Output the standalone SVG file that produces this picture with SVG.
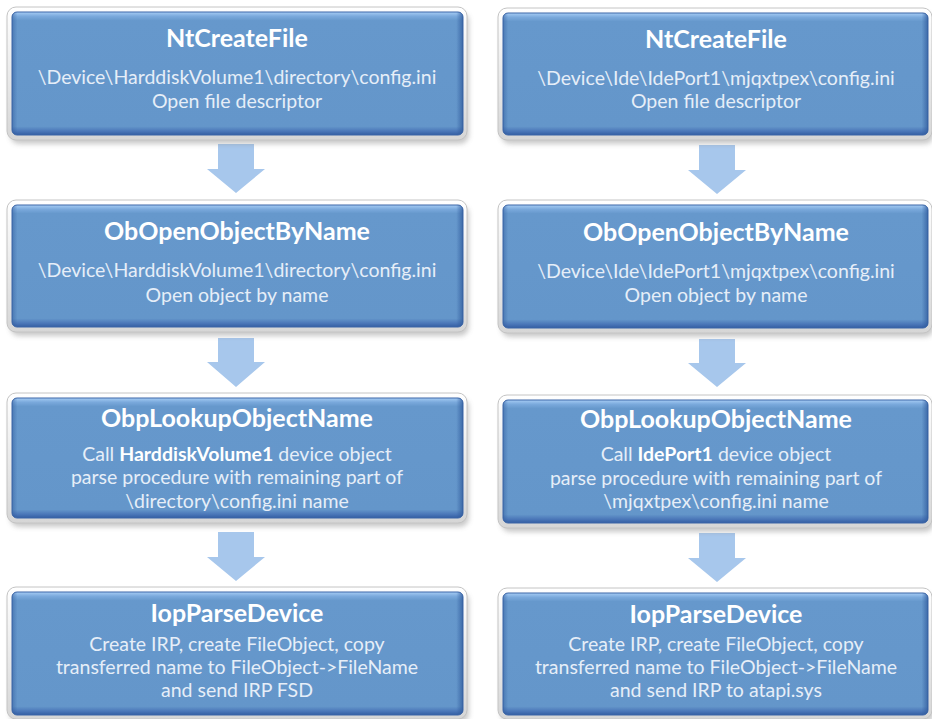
<svg xmlns="http://www.w3.org/2000/svg" width="932" height="719" viewBox="0 0 932 719">
<defs>
<style>
.t{font-family:Lato,"Open Sans",sans-serif;font-weight:bold;font-size:25px;fill:#ffffff;text-anchor:middle}
.b{font-family:Lato,"Open Sans",sans-serif;font-size:19.5px;fill:#e6eef8;text-anchor:middle}
.bb{font-weight:bold;fill:#ffffff}
.frame{fill:url(#gFrame);stroke:#c4c4c4;stroke-width:1}
.blue{fill:url(#gBlue);stroke:#3c66a8;stroke-width:1}
.edge{fill:url(#gEdge)}
.arrow{fill:#a7c7ec}
.shadow{fill:#8a8a8a;opacity:0.45;filter:url(#blur)}
</style>
<linearGradient id="gFrame" x1="0" y1="0" x2="0" y2="1">
<stop offset="0" stop-color="#ffffff"/>
<stop offset="1" stop-color="#d6d6d6"/>
</linearGradient>
<linearGradient id="gBlue" x1="0" y1="0" x2="0" y2="1">
<stop offset="0" stop-color="#a6ccf4"/>
<stop offset="0.035" stop-color="#7aa9dc"/>
<stop offset="0.07" stop-color="#6698cc"/>
<stop offset="0.93" stop-color="#6496ca"/>
<stop offset="0.97" stop-color="#4a76b8"/>
<stop offset="1" stop-color="#345ea2"/>
</linearGradient>
<linearGradient id="gEdge" x1="0" y1="0" x2="1" y2="0">
<stop offset="0" stop-color="#2f5a9c" stop-opacity="0.5"/>
<stop offset="0.012" stop-color="#2f5a9c" stop-opacity="0"/>
<stop offset="0.985" stop-color="#2f5a9c" stop-opacity="0"/>
<stop offset="1" stop-color="#2f5a9c" stop-opacity="0.75"/>
</linearGradient>
<filter id="blur" x="-10%" y="-20%" width="120%" height="140%">
<feGaussianBlur stdDeviation="2.5"/>
</filter>
</defs>
<rect width="932" height="719" fill="#ffffff"/>

<g id="connectors">
<path class="arrow" d="M218,144 H254 V169 H265 L236,193 L207,169 H218 Z"/>
<path class="arrow" d="M218,338 H254 V362 H265 L236,387 L207,362 H218 Z"/>
<path class="arrow" d="M218,532 H254 V557 H265 L236,581 L207,557 H218 Z"/>
<path class="arrow" d="M699,145 H735 V170 H746 L717,194 L688,170 H699 Z"/>
<path class="arrow" d="M699,339 H735 V363 H746 L717,387 L688,363 H699 Z"/>
<path class="arrow" d="M699,533 H735 V558 H746 L717,582 L688,558 H699 Z"/>
</g>

<g id="left-ntcreatefile">
<rect class="shadow" x="10" y="12" width="459" height="132" rx="9"/>
<rect class="frame" x="7" y="7" width="460" height="133" rx="9"/>
<rect class="blue" x="12" y="12" width="451" height="123" rx="5"/>
<rect class="edge" x="12" y="12" width="451" height="123" rx="5"/>
<text class="t" x="237" y="47">NtCreateFile</text>
<text class="b" x="237" y="84">\Device\HarddiskVolume1\directory\config.ini</text>
<text class="b" x="237" y="108">Open file descriptor</text>
</g>

<g id="left-obopen">
<rect class="shadow" x="10" y="205" width="459" height="131" rx="9"/>
<rect class="frame" x="7" y="200" width="460" height="132" rx="9"/>
<rect class="blue" x="12" y="205" width="451" height="122" rx="5"/>
<rect class="edge" x="12" y="205" width="451" height="122" rx="5"/>
<text class="t" x="237" y="240">ObOpenObjectByName</text>
<text class="b" x="237" y="277">\Device\HarddiskVolume1\directory\config.ini</text>
<text class="b" x="237" y="302">Open object by name</text>
</g>

<g id="left-obplookup">
<rect class="shadow" x="10" y="398" width="459" height="129" rx="9"/>
<rect class="frame" x="7" y="393" width="460" height="130" rx="9"/>
<rect class="blue" x="12" y="398" width="451" height="120" rx="5"/>
<rect class="edge" x="12" y="398" width="451" height="120" rx="5"/>
<text class="t" x="237" y="427">ObpLookupObjectName</text>
<text class="b" x="237" y="461">Call <tspan class="bb">HarddiskVolume1</tspan> device object</text>
<text class="b" x="237" y="484">parse procedure with remaining part of</text>
<text class="b" x="237" y="508">\directory\config.ini name</text>
</g>

<g id="left-iopparse">
<rect class="shadow" x="10" y="592" width="459" height="131" rx="9"/>
<rect class="frame" x="7" y="587" width="460" height="132" rx="9"/>
<rect class="blue" x="12" y="592" width="451" height="123" rx="5"/>
<rect class="edge" x="12" y="592" width="451" height="123" rx="5"/>
<text class="t" x="237" y="622">IopParseDevice</text>
<text class="b" x="237" y="651">Create IRP, create FileObject, copy</text>
<text class="b" x="237" y="674">transferred name to FileObject-&gt;FileName</text>
<text class="b" x="237" y="697">and send IRP FSD</text>
</g>

<g id="right-ntcreatefile">
<rect class="shadow" x="501" y="13" width="433" height="131" rx="9"/>
<rect class="frame" x="498" y="8" width="434" height="132" rx="9"/>
<rect class="blue" x="503" y="13" width="425" height="122" rx="5"/>
<rect class="edge" x="503" y="13" width="425" height="122" rx="5"/>
<text class="t" x="716" y="48">NtCreateFile</text>
<text class="b" x="716" y="85">\Device\Ide\IdePort1\mjqxtpex\config.ini</text>
<text class="b" x="716" y="108">Open file descriptor</text>
</g>

<g id="right-obopen">
<rect class="shadow" x="501" y="205" width="433" height="132" rx="9"/>
<rect class="frame" x="498" y="200" width="434" height="133" rx="9"/>
<rect class="blue" x="503" y="205" width="425" height="123" rx="5"/>
<rect class="edge" x="503" y="205" width="425" height="123" rx="5"/>
<text class="t" x="716" y="241">ObOpenObjectByName</text>
<text class="b" x="716" y="278">\Device\Ide\IdePort1\mjqxtpex\config.ini</text>
<text class="b" x="716" y="302">Open object by name</text>
</g>

<g id="right-obplookup">
<rect class="shadow" x="501" y="400" width="433" height="132" rx="9"/>
<rect class="frame" x="498" y="395" width="434" height="133" rx="9"/>
<rect class="blue" x="503" y="400" width="425" height="123" rx="5"/>
<rect class="edge" x="503" y="400" width="425" height="123" rx="5"/>
<text class="t" x="716" y="428">ObpLookupObjectName</text>
<text class="b" x="716" y="461">Call <tspan class="bb">IdePort1</tspan> device object</text>
<text class="b" x="716" y="485">parse procedure with remaining part of</text>
<text class="b" x="716" y="508">\mjqxtpex\config.ini name</text>
</g>

<g id="right-iopparse">
<rect class="shadow" x="501" y="593" width="433" height="130" rx="9"/>
<rect class="frame" x="498" y="588" width="434" height="131" rx="9"/>
<rect class="blue" x="503" y="593" width="425" height="122" rx="5"/>
<rect class="edge" x="503" y="593" width="425" height="122" rx="5"/>
<text class="t" x="716" y="623">IopParseDevice</text>
<text class="b" x="716" y="651">Create IRP, create FileObject, copy</text>
<text class="b" x="716" y="674">transferred name to FileObject-&gt;FileName</text>
<text class="b" x="716" y="697">and send IRP to atapi.sys</text>
</g>
</svg>
